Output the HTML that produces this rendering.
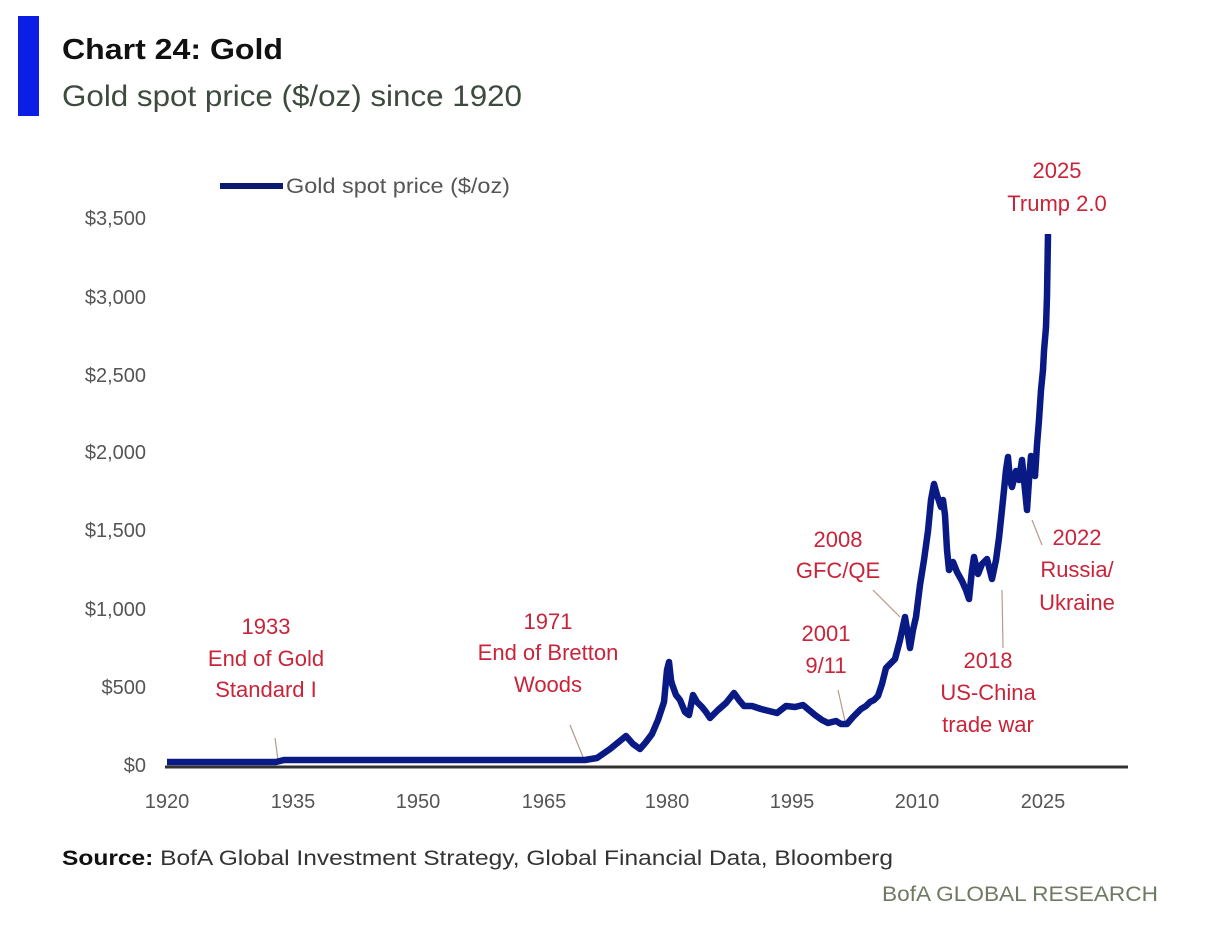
<!DOCTYPE html>
<html><head><meta charset="utf-8"><style>
html,body{margin:0;padding:0;background:#fff;}
svg{display:block;}
text{font-family:"Liberation Sans",sans-serif;}
</style></head><body>
<svg width="1227" height="935" viewBox="0 0 1227 935" xmlns="http://www.w3.org/2000/svg">
<rect width="1227" height="935" fill="#fff"/>
<rect x="18" y="16" width="21" height="100" fill="#0a1ee6"/>
<text x="62" y="59" font-size="29" font-weight="bold" fill="#111" textLength="221" lengthAdjust="spacingAndGlyphs">Chart 24: Gold</text>
<text x="62" y="106" font-size="30" fill="#3d4a3d" textLength="460" lengthAdjust="spacingAndGlyphs">Gold spot price ($/oz) since 1920</text>

<line x1="220" y1="186" x2="283" y2="186" stroke="#0a1a70" stroke-width="6"/>
<text x="286" y="193" font-size="21" fill="#555" textLength="224" lengthAdjust="spacingAndGlyphs">Gold spot price ($/oz)</text>

<g font-size="20" fill="#555" text-anchor="end">
<text x="146" y="225">$3,500</text>
<text x="146" y="304">$3,000</text>
<text x="146" y="382">$2,500</text>
<text x="146" y="459">$2,000</text>
<text x="146" y="537">$1,500</text>
<text x="146" y="616">$1,000</text>
<text x="146" y="694">$500</text>
<text x="146" y="772">$0</text>
</g>
<line x1="165" y1="767" x2="1128" y2="767" stroke="#333" stroke-width="3"/>
<g font-size="20" fill="#555" text-anchor="middle">
<text x="167" y="808">1920</text>
<text x="293" y="808">1935</text>
<text x="418" y="808">1950</text>
<text x="544" y="808">1965</text>
<text x="667" y="808">1980</text>
<text x="792" y="808">1995</text>
<text x="917" y="808">2010</text>
<text x="1043" y="808">2025</text>
</g>

<g stroke="#b89a8a" stroke-width="1.2">
<line x1="275" y1="738" x2="278" y2="760"/>
<line x1="570" y1="725" x2="583" y2="757"/>
<line x1="838" y1="690" x2="845" y2="721"/>
<line x1="873" y1="590" x2="900" y2="617"/>
<line x1="1002" y1="590" x2="1003" y2="648"/>
<line x1="1032" y1="520" x2="1042" y2="545"/>
</g>

<polyline fill="none" stroke="#0a1a85" stroke-width="6.5" stroke-linejoin="round" points="
167,762 276,762 284,760 585,760 597,758 610,749 626,736 633,744 640,749 646,742 652,734 658,720 664,702 667,670 669,662 671,680 672,684 676,695 680,700 685,712 689,715 693,695 697,702 702,707 706,712 710,718 718,710 726,703 734,693 739,700 744,706 752,706 761,709 769,711 777,713 786,706 795,707 803,705 809,710 815,715 822,720 828,723 836,721 841,724 847,724 853,717 861,709 866,706 870,702 874,700 878,696 882,684 886,668 890,664 895,659 900,640 905,617 908,635 910,648 913,630 916,617 920,585 924,560 928,531 931,500 934,484 937,495 941,507 943,500 945,515 947,550 949,570 953,562 957,572 962,581 966,590 969,599 972,570 974,557 978,574 982,564 987,559 992,579 996,560 999,538 1003,500 1006,470 1008,457 1010,480 1012,487 1016,471 1019,480 1022,460 1025,490 1027,510 1029,480 1031,456 1035,476 1037,445 1039,420 1041,390 1043,370 1044,351 1046,327 1047,296 1048,234"/>

<g font-size="22" fill="#c8243a" text-anchor="middle">
<text x="266" y="634">1933</text>
<text x="266" y="666">End of Gold</text>
<text x="266" y="697">Standard I</text>
<text x="548" y="629">1971</text>
<text x="548" y="660">End of Bretton</text>
<text x="548" y="692">Woods</text>
<text x="826" y="641">2001</text>
<text x="826" y="673">9/11</text>
<text x="838" y="547">2008</text>
<text x="838" y="578">GFC/QE</text>
<text x="988" y="668">2018</text>
<text x="988" y="700">US-China</text>
<text x="988" y="732">trade war</text>
<text x="1077" y="545">2022</text>
<text x="1077" y="577">Russia/</text>
<text x="1077" y="610">Ukraine</text>
<text x="1057" y="178">2025</text>
<text x="1057" y="211">Trump 2.0</text>
</g>

<text x="62" y="865" font-size="21" fill="#333" textLength="831" lengthAdjust="spacingAndGlyphs"><tspan font-weight="bold" fill="#111">Source:</tspan> BofA Global Investment Strategy, Global Financial Data, Bloomberg</text>
<text x="1158" y="901" font-size="21" fill="#6f7a62" text-anchor="end" textLength="276" lengthAdjust="spacingAndGlyphs">BofA GLOBAL RESEARCH</text>
</svg>
</body></html>
